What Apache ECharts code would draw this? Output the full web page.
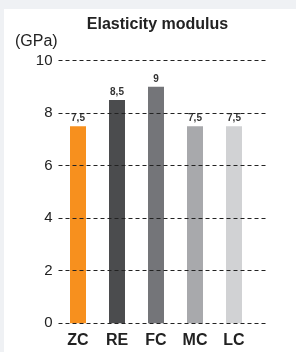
<!DOCTYPE html>
<html>
<head>
<meta charset="utf-8">
<title>Elasticity modulus</title>
<script src="https://cdn.jsdelivr.net/npm/echarts@6/dist/echarts.min.js"></script>
<style>
  html, body { margin: 0; padding: 0; background: #eff1f4; }
  .panel { position: absolute; left: 4px; top: 9px; right: 0; bottom: 0; background: #fff; }
  #main { position: absolute; left: 0; top: 0; width: 296px; height: 352px; }
</style>
</head>
<body>
<div class="panel"></div>
<div id="main"></div>
<script>
  // data
  var categories = ['ZC', 'RE', 'FC', 'MC', 'LC'];
  var values = [7.5, 8.5, 9, 7.5, 7.5];
  var valueLabels = ['7,5', '8,5', '9', '7,5', '7,5'];
  var barColors = ['#f7901e', '#4b4c4e', '#747579', '#a8a9ac', '#d1d2d4'];
  var yTicks = [0, 2, 4, 6, 8, 10];

  var font = 'Liberation Sans, Arial, Helvetica, sans-serif';
  var myChart = echarts.init(document.getElementById('main'));

  var option = {
    animation: false,
    title: [{
      text: 'Elasticity modulus',
      left: 152.5,
      top: 12,
      textAlign: 'center',
      textStyle: { fontFamily: font, fontSize: 16, fontWeight: 'bold', color: '#222' }
    }, {
      text: '(GPa)',
      left: 10,
      top: 29,
      textStyle: { fontFamily: font, fontSize: 16, fontWeight: 'normal', color: '#222' }
    }],
    grid: [
      // grid lines (a bit wider than the bars)
      { left: 58.5, top: 60.5, width: 210, height: 262.8 },
      // bars
      { left: 58.5, top: 60.5, width: 195, height: 262.8 }
    ],
    xAxis: [{
      gridIndex: 0,
      type: 'value',
      show: false
    }, {
      gridIndex: 1,
      type: 'category',
      data: categories,
      axisLine: { show: false },
      axisTick: { show: false },
      axisLabel: {
        margin: 9,
        fontFamily: font, fontSize: 16, fontWeight: 'bold', color: '#222'
      }
    }],
    yAxis: [{
      gridIndex: 0,
      type: 'value',
      min: yTicks[0],
      max: yTicks[yTicks.length - 1],
      interval: 2,
      z: 5,
      axisLine: { show: false },
      axisTick: { show: false },
      axisLabel: { margin: 6, fontFamily: font, fontSize: 15, color: '#222' },
      splitLine: { show: true, lineStyle: { color: '#222', width: 1, type: [4, 3] } }
    }, {
      gridIndex: 1,
      type: 'value',
      min: yTicks[0],
      max: yTicks[yTicks.length - 1],
      interval: 2,
      show: false,
      splitLine: { show: false }
    }],
    series: [{
      type: 'bar',
      xAxisIndex: 1,
      yAxisIndex: 1,
      barWidth: 16,
      data: values.map(function (v, i) {
        return { value: v, itemStyle: { color: barColors[i] } };
      }),
      label: {
        show: true,
        position: 'top',
        distance: 3,
        fontFamily: font,
        fontSize: 10,
        fontWeight: 'bold',
        color: '#333',
        formatter: function (p) { return valueLabels[p.dataIndex]; }
      }
    }]
  };

  myChart.setOption(option);
</script>
</body>
</html>
